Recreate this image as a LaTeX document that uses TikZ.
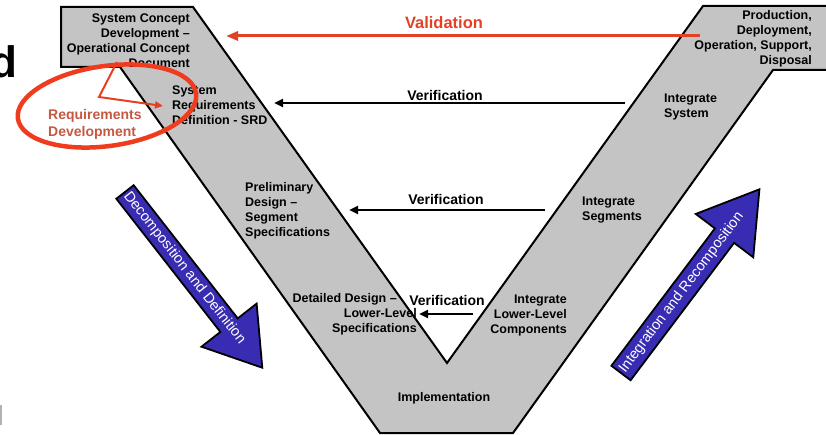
\documentclass[tikz,border=0pt]{standalone}
\usepackage{fontspec}
\setmainfont{Liberation Sans}
\usetikzlibrary{arrows.meta}
\definecolor{vgray}{RGB}{196,196,196}
\definecolor{valred}{RGB}{228,64,36}
\definecolor{reqred}{RGB}{196,88,66}
\definecolor{ellred}{RGB}{240,60,30}
\definecolor{arrblue}{RGB}{56,44,178}
\begin{document}
\begin{tikzpicture}[x=1pt,y=-1pt,
  lbl/.style={font=\fontsize{12.5}{15}\selectfont\bfseries, inner sep=0pt},
  verif/.style={font=\fontsize{14}{16}\selectfont\bfseries, inner sep=0pt},
  verarrow/.style={line width=2.4pt, -{Triangle[length=9pt,width=8pt]}},
  valarrow/.style={valred, line width=3pt, -{Triangle[length=12pt,width=9pt]}},
  bigarrow/.style={fill=arrblue, draw=black, line width=1.8pt, line join=miter},
  arrtext/.style={font=\fontsize{14.5}{14.5}\selectfont, text=white, inner sep=0pt}]
\useasboundingbox (0,0) rectangle (826,435);
\clip (0,0) rectangle (826,435);

% V shape
\draw[line width=2pt, fill=vgray, line join=miter]
  (61,7) -- (193,7) -- (447,363) -- (703,6) -- (832,6) -- (832,70) -- (773,70)
  -- (513,433) -- (380,433) -- (120,67) -- (61,67) -- cycle;

% stray letter and mark from slide
\node[font=\fontsize{44}{44}\selectfont\bfseries, anchor=base east, inner sep=0pt] (dd) at (18,78) {d};
\fill[gray!60] (0,405) rectangle (1.5,425);

% labels on the V
\node[lbl, align=right, anchor=north east] (scd) at (190,13.5) {System Concept\\Development --\\Operational Concept\\Document};
\node[lbl, align=left, anchor=north west] (srd) at (172,85.5) {System\\Requirements\\Definition - SRD};
\node[lbl, align=left, anchor=north west] (pdss) at (245,182.5) {Preliminary\\Design --\\Segment\\Specifications};
\node[lbl, align=right, anchor=north east] (ddll) at (417,293.5) {Detailed Design --\hspace*{20pt}\\Lower-Level\hspace*{20pt}\\Specifications};
\node[lbl, anchor=center] (impl) at (444,398) {Implementation};
\node[lbl, align=right, anchor=north east] (illc) at (567,294.5) {Integrate\\Lower-Level\\Components};
\node[lbl, align=left, anchor=north west] (iseg) at (582,196.5) {Integrate\\Segments};
\node[lbl, align=left, anchor=north west] (isys) at (664,93.5) {Integrate\\System};
\node[lbl, align=right, anchor=north east] (prod) at (812,10.5) {Production,\\Deployment,\\Operation, Support,\\Disposal};

% validation / verification
\node[verif, text=valred, font=\fontsize{16.5}{18}\selectfont\bfseries] (val) at (444,23) {Validation};
\coordinate (vals) at (700,36); \coordinate (vale) at (226,36);
\draw[valarrow] (vals) -- (vale);

\node[verif] (ver1) at (445,95) {Verification};
\coordinate (v1s) at (625,103); \coordinate (v1e) at (274,103);
\draw[verarrow] (v1s) -- (v1e);

\node[verif] (ver2) at (446,199) {Verification};
\coordinate (v2s) at (545,210); \coordinate (v2e) at (349,210);
\draw[verarrow] (v2s) -- (v2e);

\node[verif] (ver3) at (447,300) {Verification};
\coordinate (v3s) at (473,314); \coordinate (v3e) at (419,314);
\draw[verarrow] (v3s) -- (v3e);

% requirements development callout
\node[font=\fontsize{14}{17}\selectfont\bfseries, text=reqred, align=left, anchor=north west, inner sep=0pt] (req) at (48,109.5) {Requirements\\Development};
\coordinate (r1) at (117,62); \coordinate (r2) at (99,97); \coordinate (r3) at (163,106);
\draw[valred, line width=2pt, -{Triangle[length=8pt,width=7pt]}] (r1) -- (r2) -- (r3);
\draw[ellred, line width=4.5pt, rotate around={8:(107,106)}] (107,106) ellipse [x radius=90, y radius=40];

% decomposition arrow
\begin{scope}[shift={(125,192)}, rotate=-52]
  \draw[bigarrow] (0,-11) -- (169,-11) -- (169,-35) -- (223,0) -- (169,35) -- (169,11) -- (0,11) -- cycle;
  \node[arrtext, rotate=-52, anchor=west] (dec) at (2,0) {Decomposition and Definition};
\end{scope}

% integration arrow
\begin{scope}[shift={(621,373)}, rotate=53]
  \draw[bigarrow] (0,-12) -- (172,-12) -- (172,-36) -- (230,0) -- (172,36) -- (172,12) -- (0,12) -- cycle;
  \node[arrtext, rotate=53, anchor=west] (integ) at (2,0) {Integration and Recomposition};
\end{scope}
\end{tikzpicture}
\end{document}
